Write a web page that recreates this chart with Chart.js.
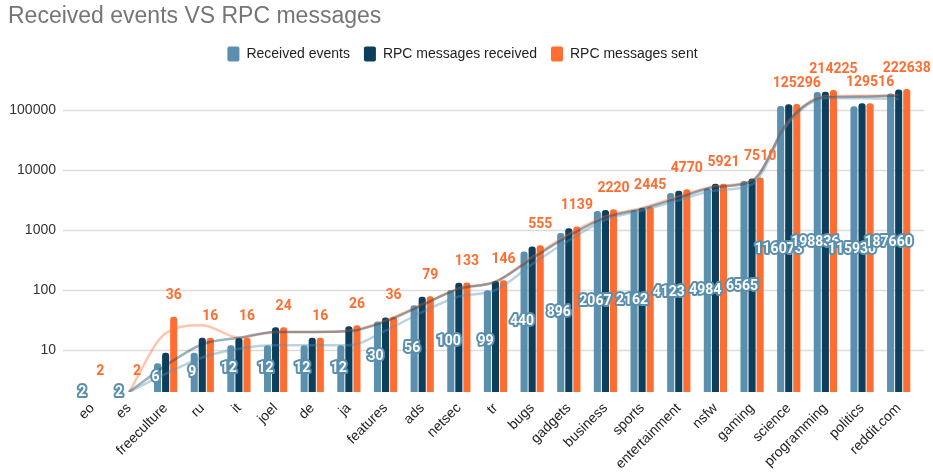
<!DOCTYPE html>
<html>
<head>
<meta charset="utf-8">
<script src="https://cdn.jsdelivr.net/npm/chart.js@4.4.1/dist/chart.umd.min.js"></script>
<style>
  html, body { margin: 0; padding: 0; background: #fff; }
  #wrap { width: 933px; height: 472px; }
</style>
</head>
<body>
<div id="wrap"><canvas id="chart"></canvas></div>
<script>
// categorias (subreddits)
const categories = ["eo", "es", "freeculture", "ru", "it", "joel", "de", "ja", "features", "ads", "netsec", "tr",
  "bugs", "gadgets", "business", "sports", "entertainment", "nsfw", "gaming", "science", "programming", "politics", "reddit.com"]

const receivedEvents = [2, 2, 6, 9, 12, 12, 12, 12, 30, 56, 100, 99,
  440, 896, 2067, 2162, 4123, 4984, 6565, 116073, 198836, 115930, 187660]

const rpcReceived = [2, 2, 9, 16, 16, 24, 16, 25, 35, 77, 132, 142,
  530, 1065, 2160, 2340, 4530, 5890, 7200, 124000, 201000, 130000, 219000]

const rpcSent = [2, 2, 36, 16, 16, 24, 16, 26, 36, 79, 133, 146,
  555, 1139, 2220, 2445, 4770, 5921, 7510, 125296, 214225, 129516, 222638]

const yTicks = [10, 100, 1000, 10000, 100000]

// linha de tendência: média móvel de 2 períodos
const movingAvg = (arr) => arr.map((v, i) => (i === 0 ? null : (v + arr[i - 1]) / 2))

const BLUE = "#5a8fae"
const DARK = "#0b3f5c"
const ORANGE = "#ff6d31"

// grade horizontal um pouco mais larga que a área do gráfico
const gridPlugin = {
  id: "wideGrid",
  beforeDatasetsDraw(chart) {
    const { ctx, chartArea, scales } = chart
    ctx.save()
    ctx.strokeStyle = "#dcdcdc"
    ctx.lineWidth = 1.5
    yTicks.forEach((v) => {
      const y = Math.round(scales.y.getPixelForValue(v)) + 0.5
      ctx.beginPath()
      ctx.moveTo(chartArea.left - 11, y)
      ctx.lineTo(chartArea.right + 7, y)
      ctx.stroke()
    })
    ctx.restore()
  },
}

// rótulos de valores
const labelPlugin = {
  id: "valueLabels",
  afterDatasetsDraw(chart) {
    const { ctx } = chart
    ctx.save()
    ctx.textAlign = "center"
    ctx.textBaseline = "middle"
    ctx.font = "bold 14px Roboto"

    const evMeta = chart.getDatasetMeta(0)
    evMeta.data.forEach((bar, i) => {
      const y = (bar.y + bar.base) / 2
      const txt = String(receivedEvents[i])
      ctx.lineJoin = "round"
      ctx.lineWidth = 4
      ctx.strokeStyle = BLUE
      ctx.strokeText(txt, bar.x - 2, y)
      ctx.fillStyle = "#ffffff"
      ctx.fillText(txt, bar.x - 2, y)
    })

    const sentMeta = chart.getDatasetMeta(2)
    ctx.fillStyle = ORANGE
    sentMeta.data.forEach((bar, i) => {
      ctx.fillText(String(rpcSent[i]), bar.x, bar.y - 21)
    })
    ctx.restore()
  },
}

const barCommon = {
  type: "bar",
  borderWidth: 0,
  borderRadius: { topLeft: 3, topRight: 3 },
  borderSkipped: "start",
  categoryPercentage: 0.66,
  barPercentage: 0.88,
  order: 2,
}

const lineCommon = {
  type: "line",
  borderWidth: 2.5,
  pointRadius: 0,
  cubicInterpolationMode: "monotone",
  fill: false,
  order: 1,
}

const ctx = document.getElementById("chart").getContext("2d")
const chart = new Chart(ctx, {
  data: {
    labels: categories,
    datasets: [
      { ...barCommon, label: "Received events", data: receivedEvents, backgroundColor: BLUE },
      { ...barCommon, label: "RPC messages received", data: rpcReceived, backgroundColor: DARK },
      { ...barCommon, label: "RPC messages sent", data: rpcSent, backgroundColor: ORANGE },
      { ...lineCommon, label: "trend-ev", data: movingAvg(receivedEvents), borderColor: "rgba(90,143,174,0.4)" },
      { ...lineCommon, label: "trend-recv", data: movingAvg(rpcReceived), borderColor: "rgba(11,63,92,0.4)" },
      { ...lineCommon, label: "trend-sent", data: movingAvg(rpcSent), borderColor: "rgba(255,109,49,0.4)" },
    ],
  },
  options: {
    responsive: true,
    maintainAspectRatio: false,
    animation: false,
    layout: { padding: { left: 8, right: 16, top: 0, bottom: 0 } },
    scales: {
      x: {
        grid: { display: false, drawTicks: false },
        border: { display: false },
        ticks: {
          color: "#222",
          font: { family: "Liberation Sans, Arial", size: 14 },
          minRotation: 45,
          maxRotation: 45,
          autoSkip: false,
          padding: 8,
        },
        afterFit: (scale) => { scale.height = 80 },
      },
      y: {
        type: "logarithmic",
        min: 2,
        max: 436000,
        grid: { display: false, drawTicks: false },
        border: { display: false },
        afterBuildTicks: (scale) => { scale.ticks = yTicks.map((v) => ({ value: v })) },
        ticks: {
          color: "#333",
          font: { family: "Liberation Sans, Arial", size: 14 },
          padding: 18,
          callback: (v) => String(v),
        },
        afterFit: (scale) => { scale.width = 66 },
      },
    },
    plugins: {
      title: {
        display: true,
        text: "Received events VS RPC messages",
        align: "start",
        color: "#757575",
        font: { family: "Liberation Sans, Arial", size: 23, weight: "normal" },
        padding: { top: 3, bottom: 2 },
      },
      legend: {
        display: true,
        labels: {
          filter: (item) => item.datasetIndex < 3,
          color: "#222",
          font: { family: "Liberation Sans, Arial", size: 14 },
          boxWidth: 12,
          boxHeight: 15,
          useBorderRadius: true,
          borderRadius: 2,
          padding: 14,
        },
      },
      tooltip: { enabled: false },
    },
  },
  plugins: [gridPlugin, labelPlugin],
})
</script>
</body>
</html>
